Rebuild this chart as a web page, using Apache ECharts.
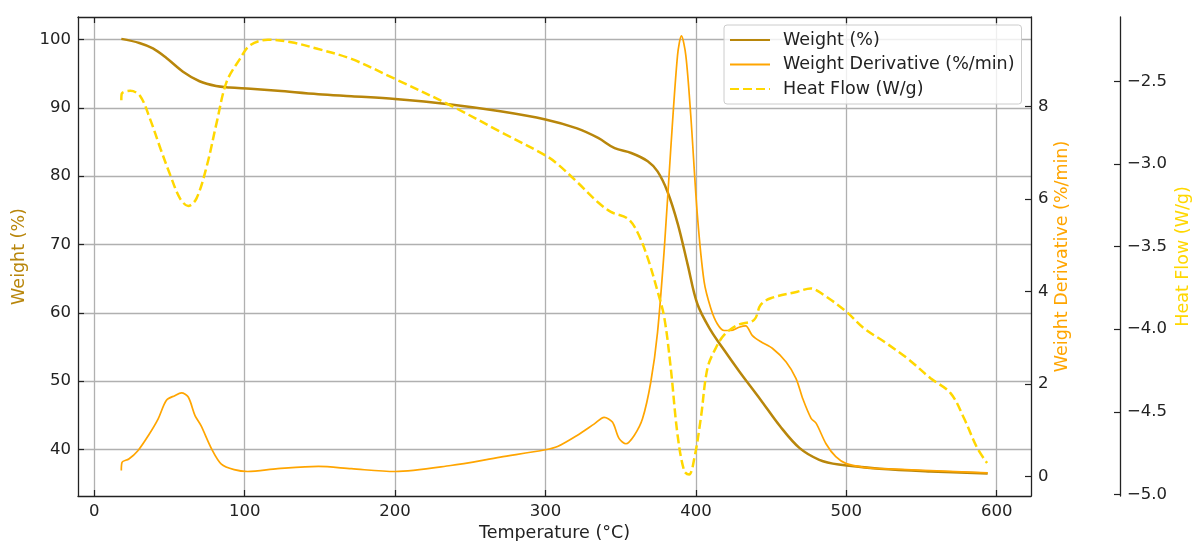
<!DOCTYPE html>
<html>
<head>
<meta charset="utf-8">
<script src="https://cdn.jsdelivr.net/npm/echarts@6/dist/echarts.min.js"></script>
<style>
html,body{margin:0;padding:0;background:#fff;}
#chart{width:1193px;height:541px;}
</style>
</head>
<body>
<div id="chart"></div>
<script>
// ---- data ----
const weightTemp = [18,30,39,48,59,70,81,90,104,122,149,171,200,237,270,300,321,335,346,357,368,374.5,381,388,394.5,401,410,419,429,443,456,469,482,495,522,556,594];
const weightVal  = [100.1,99.5,98.7,97.3,95.3,93.9,93.2,93.0,92.8,92.5,92.0,91.7,91.3,90.5,89.5,88.3,87.0,85.6,84.1,83.4,82.2,80.7,77.8,73.0,67.1,61.3,57.4,54.5,51.4,47.3,43.4,40.2,38.5,37.8,37.2,36.8,36.5];

const derivTemp = [18,18.5,23,29,36,42.5,48,53.5,58,62.5,67,71,78,84.5,93,102,122,149,171,200,237,270,300,308,321,332.5,339,344.5,349,353.5,359,364.5,370,374.5,379,383.3,387.8,390.4,393.3,396.6,401,405.5,410,414.3,418.8,423.2,428.7,433.1,437.6,443,451,460,466.6,471,476.6,480,486.5,493,500,511.7,522,556,594];
const derivVal  = [0.13,0.31,0.38,0.56,0.89,1.25,1.65,1.75,1.81,1.72,1.32,1.10,0.60,0.27,0.15,0.11,0.17,0.22,0.17,0.11,0.24,0.42,0.58,0.65,0.89,1.14,1.28,1.18,0.82,0.71,0.89,1.25,2.04,3.12,4.93,7.09,9.11,9.53,9.11,7.81,5.65,4.21,3.63,3.30,3.16,3.16,3.23,3.26,3.05,2.92,2.77,2.48,2.12,1.69,1.26,1.15,0.71,0.43,0.28,0.20,0.17,0.13,0.08];

const heatTemp = [18,18.3,24,30.5,37,44,50.5,57,62.5,68,75,81.5,88,97,103.6,115.5,131,149,171,200,237,270.5,300,308,321,334.7,343.5,354.6,361,368,374.5,379,383.3,387.8,392.3,395.5,399,403.3,407.7,413.2,418.8,427.6,438.7,443,449.7,467.5,476.3,485,500,511.7,525,540.5,556,569.3,578.2,587,593.6];
const heatVal  = [-2.614,-2.574,-2.557,-2.588,-2.725,-2.906,-3.066,-3.208,-3.254,-3.208,-3.006,-2.745,-2.503,-2.362,-2.281,-2.248,-2.263,-2.304,-2.364,-2.485,-2.646,-2.807,-2.948,-3.0,-3.109,-3.23,-3.29,-3.33,-3.41,-3.57,-3.77,-3.93,-4.236,-4.639,-4.86,-4.88,-4.78,-4.538,-4.236,-4.115,-4.035,-3.975,-3.944,-3.854,-3.813,-3.773,-3.753,-3.793,-3.894,-3.995,-4.075,-4.176,-4.297,-4.387,-4.538,-4.719,-4.81];

const xTicks      = [0,100,200,300,400,500,600];
const weightTicks = [40,50,60,70,80,90,100];
const derivTicks  = [0,2,4,6,8];
const heatTicks   = [-5.0,-4.5,-4.0,-3.5,-3.0,-2.5];

const seriesNames = ['Weight (%)','Weight Derivative (%/min)','Heat Flow (W/g)'];
const axisTitles  = ['Temperature (°C)','Weight (%)','Weight Derivative (%/min)','Heat Flow (W/g)'];

// ---- chart ----
const FONT = 'DejaVu Sans';
const FS = 16.5;     // tick labels
const FT = 17.5;     // titles / legend
const INK = '#222';
const C_W = '#B8860B', C_D = '#FFA500', C_H = '#FFD700';

function pairs(t, v){ return t.map((x,i)=>[x, v[i]]); }

const spine = {show:true, onZero:false, lineStyle:{color:INK, width:1.3}};
function ticks(vals){ return {show:true, inside:true, length:6, customValues:vals, lineStyle:{color:INK, width:1.2}}; }
function labels(vals, extra){ return Object.assign({show:true, customValues:vals, color:INK, fontSize:FS, fontFamily:FONT, margin:7}, extra||{}); }

const chart = echarts.init(document.getElementById('chart'), null, {renderer:'canvas'});
chart.setOption({
  animation:false,
  backgroundColor:'#fff',
  textStyle:{fontFamily:FONT},
  grid:{left:78, right:162, top:17, bottom:45, containLabel:false, outerBoundsMode:'none'},
  legend:{
    orient:'vertical', left:724, top:25,
    data:seriesNames,
    itemWidth:40, itemHeight:14, itemGap:4.5,
    padding:[5,7,5,5],
    backgroundColor:'rgba(255,255,255,0.8)',
    borderColor:'#cccccc', borderWidth:1, borderRadius:3,
    itemStyle:{opacity:0},
    textStyle:{fontSize:FT, fontFamily:FONT, color:INK, lineHeight:20, padding:[0,0,0,8]}
  },
  xAxis:[
    {type:'value', position:'bottom', min:-10.8, max:622.8,
     axisLine:spine, axisTick:ticks(xTicks), axisLabel:labels(xTicks),
     splitLine:{show:true, lineStyle:{color:'#b0b0b0', width:1.3}},
     name:axisTitles[0], nameLocation:'middle', nameGap:25,
     nameTextStyle:{fontSize:FT, fontFamily:FONT, color:INK}},
    {type:'value', position:'top', min:-10.8, max:622.8,
     axisLine:spine, axisTick:ticks(xTicks), axisLabel:{show:false},
     splitLine:{show:false}}
  ],
  yAxis:[
    {type:'value', position:'left', min:33.2, max:103.3,
     axisLine:spine, axisTick:ticks(weightTicks), axisLabel:labels(weightTicks),
     splitLine:{show:true, lineStyle:{color:'#b0b0b0', width:1.3}},
     name:axisTitles[1], nameLocation:'middle', nameGap:50, nameMoveOverlap:false,
     nameTextStyle:{fontSize:FT, fontFamily:FONT, color:C_W}},
    {type:'value', position:'right', offset:0, min:-0.42, max:9.94,
     axisLine:spine, axisTick:ticks(derivTicks), axisLabel:labels(derivTicks),
     splitLine:{show:false},
     name:axisTitles[2], nameLocation:'middle', nameGap:22, nameMoveOverlap:false,
     nameTextStyle:{fontSize:FT, fontFamily:FONT, color:C_D}},
    {type:'value', position:'right', offset:89, min:-5.01, max:-2.11,
     axisLine:spine, axisTick:ticks(heatTicks),
     axisLabel:labels(heatTicks, {formatter:v=>v.toFixed(1).replace('-','\u2212')}),
     splitLine:{show:false},
     name:axisTitles[3], nameLocation:'middle', nameGap:54, nameMoveOverlap:false,
     nameTextStyle:{fontSize:FT, fontFamily:FONT, color:C_H}}
  ],
  series:[
    {name:seriesNames[0], type:'line', xAxisIndex:0, yAxisIndex:0, data:pairs(weightTemp, weightVal),
     showSymbol:false, symbol:'none', smooth:0.35,
     itemStyle:{color:C_W}, lineStyle:{color:C_W, width:2.5}},
    {name:seriesNames[1], type:'line', xAxisIndex:0, yAxisIndex:1, data:pairs(derivTemp, derivVal),
     showSymbol:false, symbol:'none', smooth:0.3,
     itemStyle:{color:C_D}, lineStyle:{color:C_D, width:1.7}},
    {name:seriesNames[2], type:'line', xAxisIndex:0, yAxisIndex:2, data:pairs(heatTemp, heatVal),
     showSymbol:false, symbol:'none', smooth:0.35,
     itemStyle:{color:C_H}, lineStyle:{color:C_H, width:2.5, type:[9,4]}}
  ]
});
</script>
</body>
</html>
